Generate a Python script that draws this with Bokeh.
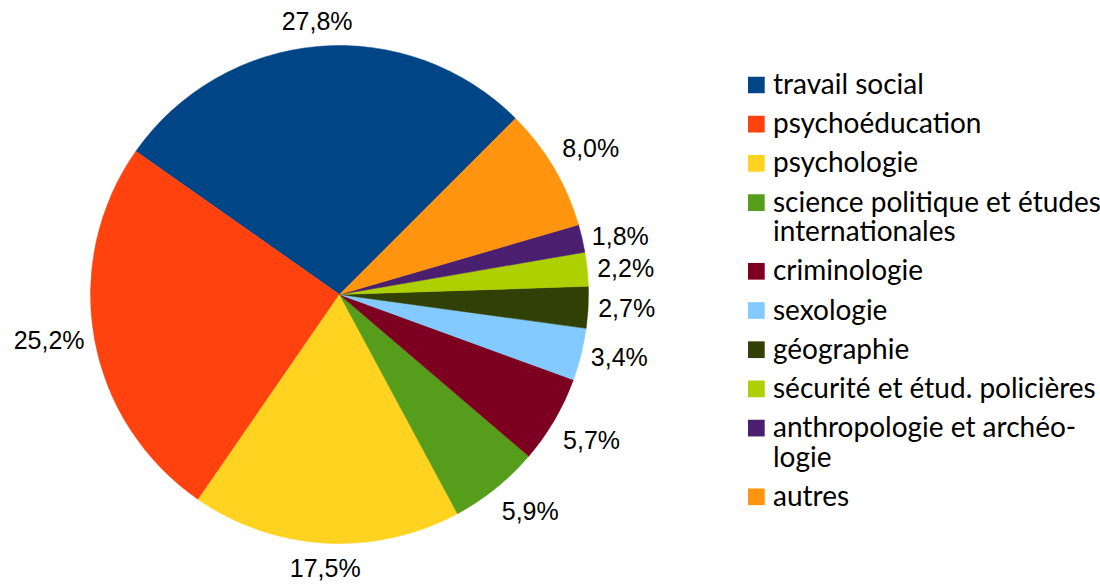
import numpy as np
from bokeh.plotting import figure
from bokeh.models import Range1d, ColumnDataSource
from bokeh.embed import file_html
from bokeh.resources import INLINE
from bokeh.core.properties import value

# ---- data ----
categories = [
    "travail social",
    "psychoéducation",
    "psychologie",
    "science politique et études\ninternationales",
    "criminologie",
    "sexologie",
    "géographie",
    "sécurité et étud. policières",
    "anthropologie et archéo-\nlogie",
    "autres",
]
values = [27.8, 25.2, 17.5, 5.9, 5.7, 3.4, 2.7, 2.2, 1.8, 8.0]
pct_labels = ["27,8%", "25,2%", "17,5%", "5,9%", "5,7%", "3,4%", "2,7%", "2,2%", "1,8%", "8,0%"]
colors = ["#004586", "#ff420e", "#ffd320", "#579d1c", "#7e0021",
          "#83caff", "#314004", "#aecf00", "#4b1f6f", "#ff950e"]

# ---- layout (picture pixel coordinates; data y = H - picture y) ----
W, H = 1100, 586
CX, CY_PAGE, R = 339, 294, 249
START_DEG = 45.0
LABEL_GAP = 11
LABEL_FS = 25
LEG_FS = 28

def py(y):
    return H - y

p = figure(width=W, height=H, x_range=Range1d(0, W), y_range=Range1d(0, H),
           output_backend="svg", toolbar_location=None,
           x_axis_location=None, y_axis_location=None,
           min_border=0, min_border_left=0, min_border_right=0,
           min_border_top=0, min_border_bottom=0)
p.grid.visible = False
p.outline_line_color = None
p.background_fill_color = "white"
p.border_fill_color = "white"

# ---- pie ----
vals = np.array(values, dtype=float)
frac = vals / vals.sum()
spans = frac * 2 * np.pi
starts = np.deg2rad(START_DEG) + np.concatenate([[0], np.cumsum(spans)[:-1]])
ends = starts + spans

src = ColumnDataSource(dict(start=starts, end=ends, color=colors,
                            x=[CX] * len(vals), y=[py(CY_PAGE)] * len(vals)))
p.wedge(x="x", y="y", radius=R, start_angle="start", end_angle="end",
        direction="anticlock", fill_color="color", line_color="color",
        line_width=0.5, source=src)

# ---- percentage labels (LibreOffice-like placement) ----
char_w = {"0": .556, "1": .556, "2": .556, "3": .556, "4": .556, "5": .556,
          "6": .556, "7": .556, "8": .556, "9": .556, ",": .278, "%": .889}
box_h = LABEL_FS * 1.15
lx, ly = [], []
for s, e, lab in zip(starts, ends, pct_labels):
    mid = (s + e) / 2
    deg = np.rad2deg(mid) % 360
    px = CX + (R + LABEL_GAP) * np.cos(mid)
    pyy = py(CY_PAGE) + (R + LABEL_GAP) * np.sin(mid)
    if deg <= 22.5 or deg >= 337.5:
        ax, ay = 1, 0
    elif deg < 67.5:
        ax, ay = 1, 1
    elif deg < 112.5:
        ax, ay = 0, 1
    elif deg <= 157.5:
        ax, ay = -1, 1
    elif deg <= 202.5:
        ax, ay = -1, 0
    elif deg < 247.5:
        ax, ay = -1, -1
    elif deg < 292.5:
        ax, ay = 0, -1
    else:
        ax, ay = 1, -1
    w = sum(char_w[c] for c in lab) * LABEL_FS - 2
    lx.append(px + ax * w / 2)
    ly.append(pyy + ay * box_h / 2)

p.text(x=lx, y=ly, text=pct_labels, text_font=value("Liberation Sans"),
       text_font_size=f"{LABEL_FS}px", text_color="black",
       text_align="center", text_baseline="middle")

# ---- legend ----
LEG_SQ_X0, LEG_SQ = 747.5, 16.7
LEG_TEXT_X = 772.5
LEG_Y0, LEG_STEP, LEG_LINE = 84.5, 39.2, 29.5
TEXT_DY = -2
sq_x, sq_y, t_x, t_y, t_s = [], [], [], [], []
yc = LEG_Y0
for cat in categories:
    lines = cat.split("\n")
    sq_x.append(LEG_SQ_X0 + LEG_SQ / 2)
    sq_y.append(py(yc))
    for i, ln in enumerate(lines):
        t_x.append(LEG_TEXT_X)
        t_y.append(py(yc + TEXT_DY + i * LEG_LINE))
        t_s.append(ln)
    yc += LEG_STEP + (len(lines) - 1) * LEG_LINE

p.rect(x=sq_x, y=sq_y, width=LEG_SQ, height=LEG_SQ, fill_color=colors, line_color=None)
p.text(x=t_x, y=t_y, text=t_s, text_font=value("Lato"), text_font_size=f"{LEG_FS}px",
       text_color="black", text_align="left", text_baseline="alphabetic")

open("out.html", "w").write(file_html(p, INLINE))
